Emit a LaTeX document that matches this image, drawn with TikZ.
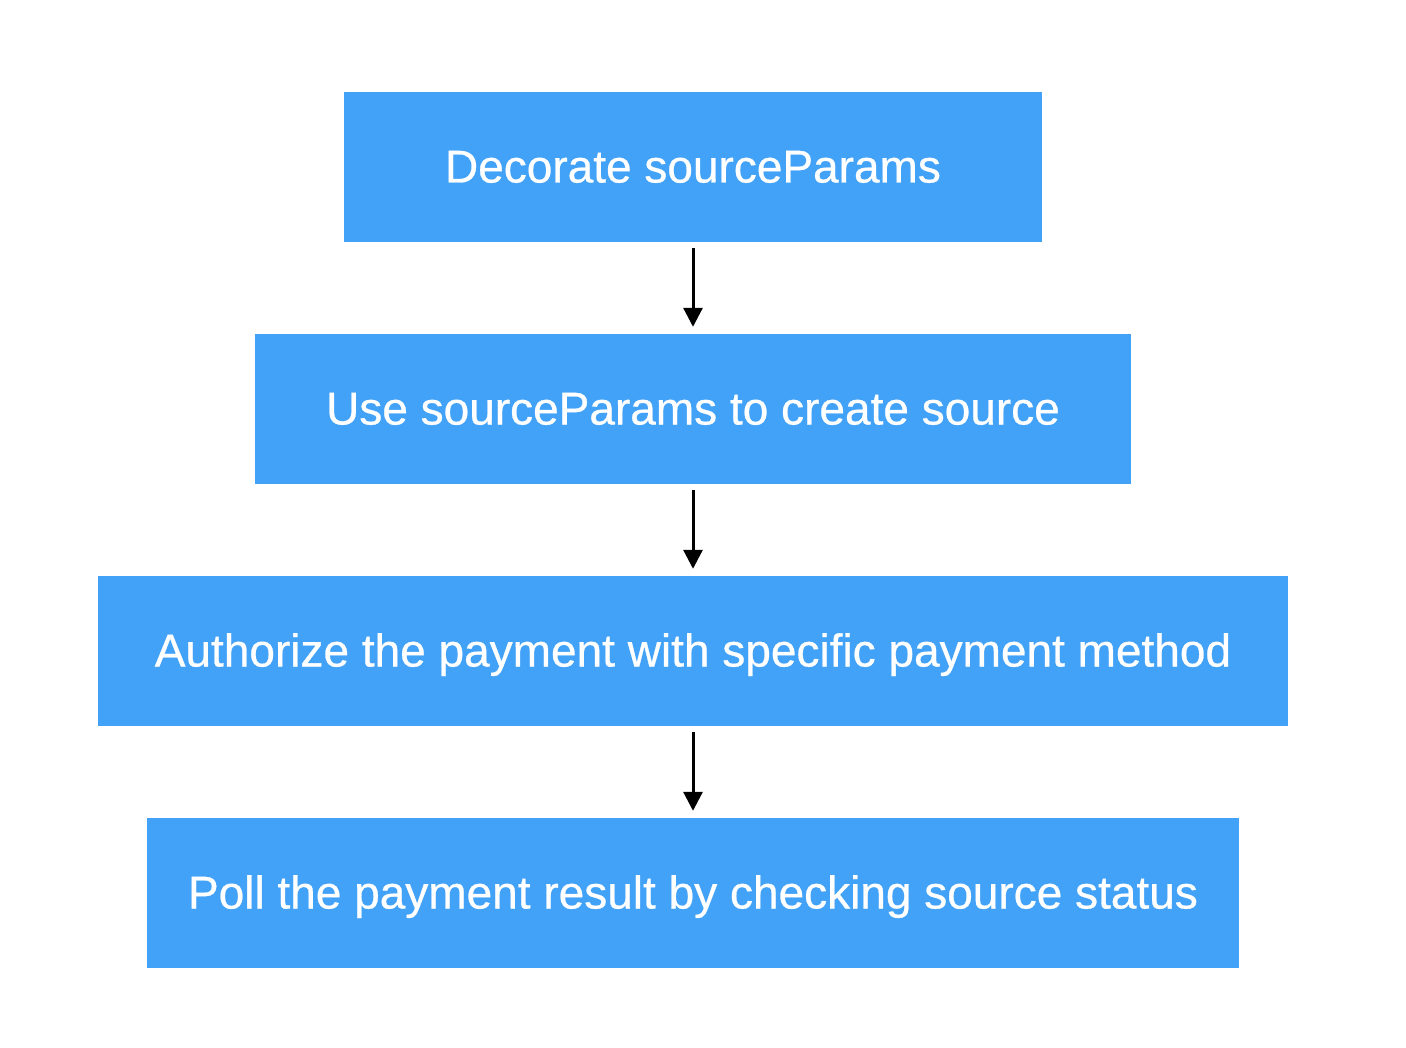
\documentclass[tikz,border=0pt]{standalone}
\usepackage{fontspec}
\setmainfont{Liberation Sans}
\newfontfamily\boxfont{Liberation Sans}[BoldFont={Liberation Sans},BoldFeatures={FakeBold=0.6}]
\usetikzlibrary{arrows.meta}
\definecolor{boxblue}{RGB}{66,162,247}
\begin{document}
\begin{tikzpicture}[x=1pt,y=-1pt,
  stepbox/.style={fill=boxblue,draw=none,text=white,inner sep=0pt,
    font=\boxfont\fontsize{46}{55}\selectfont\bfseries,minimum height=150pt,
    text height=36pt,text depth=5pt},
  flow/.style={-{Triangle[width=19pt,length=19pt]},line width=3pt,black,shorten <=6pt,shorten >=7pt}]
\useasboundingbox (0,0) rectangle (1406,1048);
\node[stepbox,minimum width=698pt] (a) at (693,167) {Decorate sourceParams};
\node[stepbox,minimum width=876pt] (b) at (693,409) {Use sourceParams to create source};
\node[stepbox,minimum width=1190pt] (c) at (693,651) {Authorize the payment with specific payment method};
\node[stepbox,minimum width=1092pt] (d) at (693,893) {Poll the payment result by checking source status};
\draw[flow] (a) -- (b);
\draw[flow] (b) -- (c);
\draw[flow] (c) -- (d);
\end{tikzpicture}
\end{document}
